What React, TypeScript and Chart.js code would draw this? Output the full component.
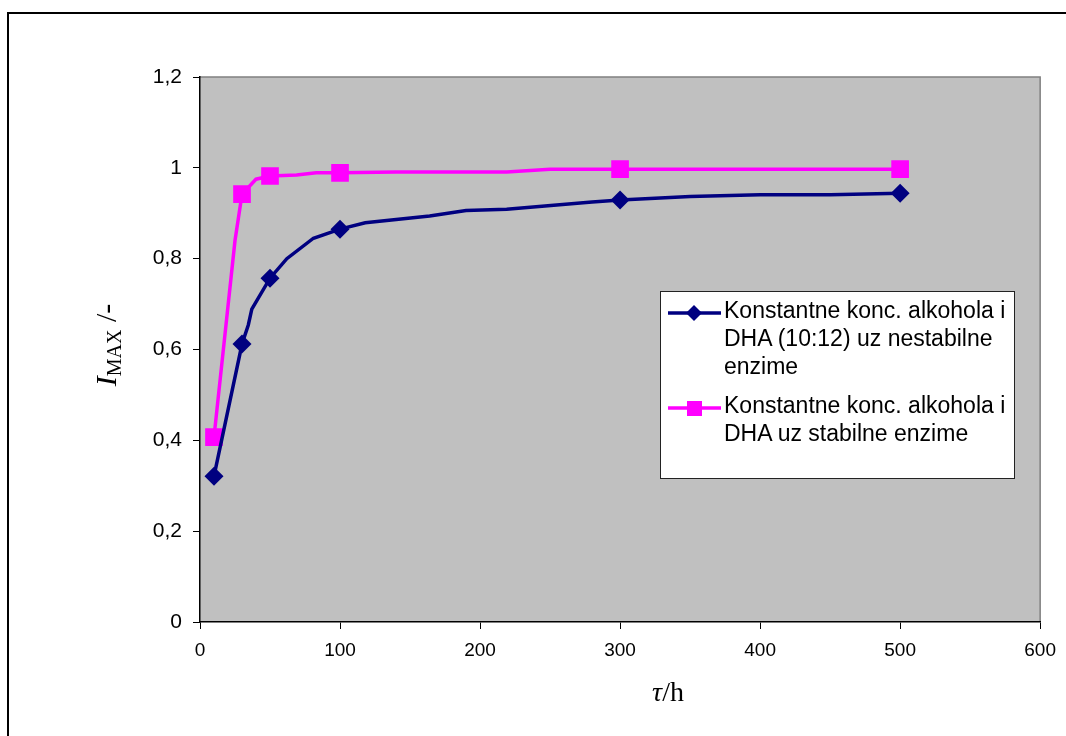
import React, { useEffect, useRef } from "react";
import { Chart, registerables } from "chart.js";

Chart.register(...registerables);

// ---- data ----
const blueX = [10, 30, 34.5, 37, 50, 62, 81, 100, 118, 164, 190, 219, 280, 300, 350, 400, 450, 500];
const blueY = [0.321, 0.612, 0.654, 0.689, 0.757, 0.8, 0.845, 0.865, 0.879, 0.894, 0.906, 0.909, 0.925, 0.929, 0.937, 0.941, 0.941, 0.944];
const blueMarkerX = [10, 30, 50, 100, 300, 500];

const pinkX = [10, 25, 30, 40, 50, 69, 83, 100, 140, 219, 250, 300, 500];
const pinkY = [0.407, 0.84, 0.942, 0.975, 0.982, 0.984, 0.989, 0.989, 0.991, 0.991, 0.997, 0.997, 0.997];
const pinkMarkerX = [10, 30, 50, 100, 300, 500];

const xTicks = [0, 100, 200, 300, 400, 500, 600];
const yTicks = [0, 0.2, 0.4, 0.6, 0.8, 1, 1.2];

const seriesLabels = [
  "Konstantne konc. alkohola i\nDHA (10:12) uz nestabilne\nenzime",
  "Konstantne konc. alkohola i\nDHA uz stabilne enzime",
];
const xTitleTau = "τ";
const xTitleRest = "/h";
const yTitleMain = "I";
const yTitleSub = "MAX";
const yTitleRest = " /-";

const BLUE = "#000080";
const PINK = "#FF00FF";
const SANS = "'Liberation Sans', Arial, sans-serif";
const SERIF = "'Liberation Serif', 'Times New Roman', serif";

const bgPlugin = {
  id: "plotBg",
  beforeDraw(chart: any) {
    const { ctx, chartArea } = chart;
    const { left, top, right, bottom } = chartArea;
    ctx.save();
    ctx.fillStyle = "#C0C0C0";
    ctx.fillRect(left, top, right - left, bottom - top);
    ctx.strokeStyle = "#808080";
    ctx.lineWidth = 1.5;
    ctx.beginPath();
    ctx.moveTo(left, top);
    ctx.lineTo(right, top);
    ctx.lineTo(right, bottom);
    ctx.stroke();
    ctx.restore();
  },
};

function LegendEntry({ color, style, label, top }: any) {
  const lines = label.split("\n");
  return (
    <div style={{ position: "absolute", left: 0, top, width: "100%" }}>
      <svg width={60} height={28} style={{ position: "absolute", left: 6, top: 7 }}>
        <line x1={1} y1={14} x2={54} y2={14} stroke={color} strokeWidth={3.5} />
        {style === "diamond" ? (
          <polygon points="27,6 35,14 27,22 19,14" fill={color} />
        ) : (
          <rect x={20} y={7} width={15} height={15} fill={color} />
        )}
      </svg>
      <div
        style={{
          position: "absolute",
          left: 63,
          top: 4,
          fontFamily: SANS,
          fontSize: 23,
          lineHeight: "28px",
          color: "#000",
          whiteSpace: "nowrap",
        }}
      >
        {lines.map((l: string, i: number) => (
          <div key={i}>{l}</div>
        ))}
      </div>
    </div>
  );
}

export default function App() {
  const canvasRef = useRef<HTMLCanvasElement | null>(null);

  useEffect(() => {
    const canvas = canvasRef.current;
    if (!canvas) return;
    const chart = new Chart(canvas, {
      type: "line",
      data: {
        datasets: [
          {
            label: seriesLabels[0],
            data: blueX.map((x, i) => ({ x, y: blueY[i] })),
            borderColor: BLUE,
            backgroundColor: BLUE,
            borderWidth: 3.5,
            pointStyle: "rectRot",
            pointRadius: (c: any) => (c.raw && blueMarkerX.includes(c.raw.x) ? 9.5 : 0),
            pointBorderWidth: 0,
            pointBorderColor: BLUE,
            pointBackgroundColor: BLUE,
            tension: 0,
          },
          {
            label: seriesLabels[1],
            data: pinkX.map((x, i) => ({ x, y: pinkY[i] })),
            borderColor: PINK,
            backgroundColor: PINK,
            borderWidth: 3.5,
            pointStyle: "rect",
            pointRadius: (c: any) => (c.raw && pinkMarkerX.includes(c.raw.x) ? 12.5 : 0),
            pointBorderWidth: 0,
            pointBorderColor: PINK,
            pointBackgroundColor: PINK,
            tension: 0,
          },
        ],
      } as any,
      options: {
        animation: false,
        responsive: false,
        maintainAspectRatio: false,
        layout: { padding: { left: 0, top: 77, right: 25, bottom: 0 } },
        plugins: { legend: { display: false }, tooltip: { enabled: false } },
        scales: {
          x: {
            type: "linear",
            min: 0,
            max: 600,
            afterBuildTicks: (axis: any) => {
              axis.ticks = xTicks.map((v) => ({ value: v }));
            },
            afterFit: (axis: any) => {
              axis.height = 114;
            },
            grid: { drawOnChartArea: false, drawTicks: true, tickLength: 7, color: "#000", lineWidth: 1 },
            border: { color: "#000", width: 1.5 },
            ticks: {
              font: { family: SANS, size: 19 },
              color: "#000",
              padding: 10,
              maxRotation: 0,
              autoSkip: false,
              callback: (v: any) => String(v),
            },
          },
          y: {
            type: "linear",
            min: 0,
            max: 1.2,
            afterBuildTicks: (axis: any) => {
              axis.ticks = yTicks.map((v) => ({ value: v }));
            },
            afterFit: (axis: any) => {
              axis.width = 200;
            },
            grid: { drawOnChartArea: false, drawTicks: true, tickLength: 7, color: "#000", lineWidth: 1 },
            border: { color: "#000", width: 1.5 },
            ticks: {
              font: { family: SANS, size: 21 },
              color: "#000",
              padding: 11,
              autoSkip: false,
              callback: (v: any) => String(Math.round(Number(v) * 10) / 10).replace(".", ","),
            },
          },
        },
      } as any,
      plugins: [bgPlugin],
    });
    return () => chart.destroy();
  }, []);

  return (
    <div style={{ position: "fixed", left: 0, top: 0, width: 1066, height: 736, background: "#fff", overflow: "hidden" }}>
      <canvas ref={canvasRef} width={1066} height={736} style={{ position: "absolute", left: 0, top: 0, width: 1066, height: 736 }} />
      <div
        style={{
          position: "absolute",
          left: 7,
          top: 12,
          width: 1200,
          height: 900,
          borderLeft: "2px solid #000",
          borderTop: "2px solid #000",
          pointerEvents: "none",
        }}
      />
      {/* Y title */}
      <div
        style={{
          position: "absolute",
          left: 106,
          top: 345,
          transform: "translate(-50%, -50%) rotate(-90deg)",
          whiteSpace: "nowrap",
          fontFamily: SERIF,
          fontSize: 30,
          color: "#000",
        }}
      >
        <i>{yTitleMain}</i>
        <span style={{ fontSize: 20, position: "relative", top: 5 }}>{yTitleSub}</span>
        <span>{yTitleRest}</span>
      </div>
      {/* X title */}
      <div
        style={{
          position: "absolute",
          left: 668,
          top: 692,
          transform: "translate(-50%, -50%)",
          whiteSpace: "nowrap",
          fontFamily: SERIF,
          fontSize: 28,
          color: "#000",
        }}
      >
        <i>{xTitleTau}</i>
        <span>{xTitleRest}</span>
      </div>
      {/* Legend */}
      <div
        style={{
          position: "absolute",
          left: 660,
          top: 291,
          width: 355,
          height: 188,
          boxSizing: "border-box",
          background: "#fff",
          border: "1px solid #222",
        }}
      >
        <LegendEntry color={BLUE} style="diamond" label={seriesLabels[0]} top={0} />
        <LegendEntry color={PINK} style="square" label={seriesLabels[1]} top={95} />
      </div>
    </div>
  );
}
